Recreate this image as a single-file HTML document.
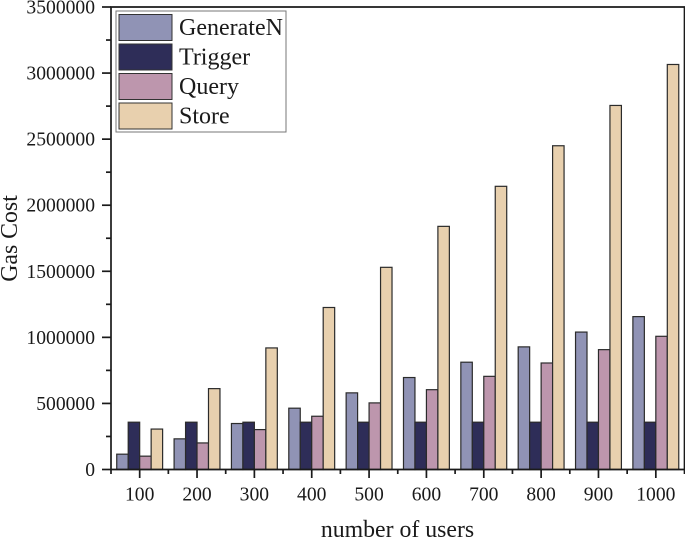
<!DOCTYPE html>
<html>
<head>
<meta charset="utf-8">
<style>
html,body{margin:0;padding:0;background:#fff;width:685px;height:538px;overflow:hidden}
svg{display:block}
text{font-family:"Liberation Serif",serif;fill:#1a1a1a}
</style>
</head>
<body>
<svg id="chart" width="685" height="538" viewBox="0 0 685 538" xmlns="http://www.w3.org/2000/svg"></svg>
<script>
const categories = ['100','200','300','400','500','600','700','800','900','1000'];
const seriesNames = ['GenerateN','Trigger','Query','Store'];
const generateN = [116000,232000,348000,464000,580000,696000,812000,928000,1040000,1157000];
const trigger = [358000,358000,358000,358000,358000,358000,358000,358000,358000,358000];
const query = [101000,201000,302000,403000,504000,604000,705000,806000,907000,1008000];
const store = [306000,612000,920000,1226000,1530000,1840000,2143000,2450000,2755000,3065000];
const yTicks = [0,500000,1000000,1500000,2000000,2500000,3000000,3500000];
const yMinorTicks = [250000,750000,1250000,1750000,2250000,2750000,3250000];

const NS = 'http://www.w3.org/2000/svg';
const svg = document.getElementById('chart');
const colors = ['#9093b5','#2e2d58','#bd96ad','#e8d0ae'];
const allSeries = [generateN, trigger, query, store];
const L = 111, R = 684.5, T = 7, B = 469.5, YMAX = 3500000;
const step = (R - L) / categories.length;
const barW = step * 0.8 / allSeries.length;
function yScale(v){ return B - v / YMAX * (B - T); }
function xScale(i){ return L + step * (i + 0.5); }
function make(tag, attrs, parent){
  const el = document.createElementNS(NS, tag);
  for (const k in attrs) el.setAttribute(k, attrs[k]);
  (parent || svg).appendChild(el);
  return el;
}

const barsGroup = make('g', {});


allSeries.forEach(function(vals, s){
  vals.forEach(function(v, i){
    const x = xScale(i) - 2 * barW + s * barW;
    const r = make('rect', {x:x, y:yScale(v), width:barW, height:B - yScale(v), fill:colors[s], stroke:'#2b2b2b', 'stroke-width':1.2}, barsGroup);
    
    
  });
});

const frame = make('path', {d:'M'+L+' '+B+'V'+T+'H'+R+'V'+B+'H'+L, fill:'none', stroke:'#1a1a1a', 'stroke-width':1.7});



yTicks.forEach(function(v){
  const y = yScale(v);
  const t = make('line', {x1:102, x2:L, y1:y, y2:y, stroke:'#1a1a1a', 'stroke-width':1.7});
  
  
  const lb = make('text', {x:95, y:y + 6.5, 'text-anchor':'end', 'font-size':19.6});
  lb.textContent = String(v);
  
  
});
yMinorTicks.forEach(function(v){
  const y = yScale(v);
  const t = make('line', {x1:106, x2:L, y1:y, y2:y, stroke:'#1a1a1a', 'stroke-width':1.7});
  
  
});
categories.forEach(function(c, i){
  const x = xScale(i);
  const t = make('line', {x1:x, x2:x, y1:B, y2:478, stroke:'#1a1a1a', 'stroke-width':1.7});
  
  
  const lb = make('text', {x:x, y:500.5, 'text-anchor':'middle', 'font-size':19.6});
  lb.textContent = c;
  
  
});
for (let i = 0; i <= categories.length; i++){
  const x = L + step * i;
  const t = make('line', {x1:x, x2:x, y1:B, y2:474, stroke:'#1a1a1a', 'stroke-width':1.7});
  
  
}

const xTitle = make('text', {x:397.5, y:537, 'text-anchor':'middle', 'font-size':23.8});
xTitle.textContent = 'number of users';


const yTitle = make('text', {x:0, y:0, 'text-anchor':'middle', 'font-size':23.8, transform:'translate(17 238.5) rotate(-90)'});
yTitle.textContent = 'Gas Cost';



const legend = make('g', {});


const legendBox = make('rect', {x:116, y:11, width:170, height:121, fill:'#fff', stroke:'#777', 'stroke-width':1}, legend);


seriesNames.forEach(function(n, s){
  const y = 14.5 + s * 29.5;
  const sw = make('rect', {x:119, y:y, width:53, height:26, fill:colors[s], stroke:'#333', 'stroke-width':1}, legend);
  
  
  const lb = make('text', {x:179, y:y + 20.5, 'font-size':24}, legend);
  lb.textContent = n;
  
  
});
</script>
</body>
</html>
